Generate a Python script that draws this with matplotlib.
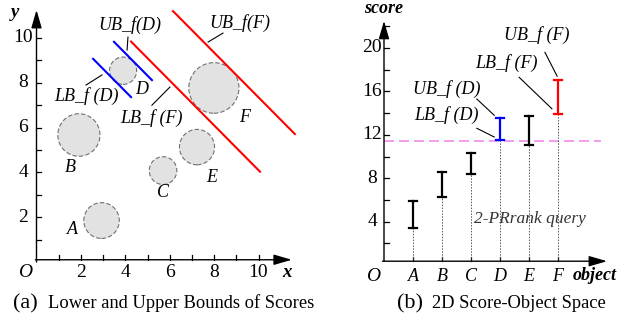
import matplotlib
matplotlib.use("Agg")
import matplotlib.pyplot as plt
from matplotlib.patches import Circle

# ---------------- data ----------------
obj_names = ["A", "B", "C", "D", "E", "F"]
obj_x = [2.93, 1.91, 5.70, 3.90, 7.23, 7.99]
obj_y = [1.85, 5.67, 4.08, 8.54, 5.13, 7.77]
obj_r = [0.80, 0.95, 0.62, 0.61, 0.79, 1.13]

# bound lines x + y = c  (left panel)
bound_names = ["LB_f (D)", "UB_f(D)", "LB_f (F)", "UB_f(F)"]
bound_c = [11.62, 13.32, 14.10, 17.35]
bound_x0 = [2.55, 3.49, 4.26, 6.15]
bound_x1 = [4.26, 5.20, 10.07, 11.64]
bound_colors = ["blue", "blue", "red", "red"]

# score intervals (right panel)
score_lower = [3.41, 6.29, 8.39, 11.52, 11.06, 13.92]
score_upper = [5.93, 8.54, 10.32, 13.52, 13.73, 17.05]
score_colors = ["black", "black", "black", "blue", "black", "red"]
threshold = 11.46

x_ticks_left = [2, 4, 6, 8, 10]
y_ticks_left = [2, 4, 6, 8, 10]
y_ticks_right = [4, 8, 12, 16, 20]

SERIF = "Liberation Serif"
W, H = 634, 332
fig = plt.figure(figsize=(W / 100, H / 100), dpi=100)

TICK_FS = 14
LAB_FS = 13


def add_axes_px(x0, x1, y0, y1):
    return fig.add_axes([x0 / W, 1 - y1 / H, (x1 - x0) / W, (y1 - y0) / H])


def arrow(ax, start, tip):
    ax.annotate("", xy=tip, xytext=start,
                arrowprops=dict(arrowstyle="-|>,head_length=1.1,head_width=0.32",
                                lw=1.0, color="black", shrinkA=0, shrinkB=0),
                annotation_clip=False)


# ---------------- left panel ----------------
axL = add_axes_px(0, 310, 0, 292)
axL.set_xlim((0 - 36.5) / 22.2, (310 - 36.5) / 22.2)
axL.set_ylim((262 - 292) / 22.4, 262 / 22.4)
axL.axis("off")

ax0y = 0.1
arrow(axL, (-0.05, ax0y), (11.5, ax0y))
arrow(axL, (0.0, 0.0), (0.0, 11.25))
for t in range(1, 11):
    axL.plot([t, t], [ax0y, ax0y + 0.22], color="black", lw=0.9)
    axL.plot([0, 0.22], [t, t], color="black", lw=0.9)
for t in x_ticks_left:
    axL.text(t, -0.47, str(t), ha="center", va="center", fontsize=TICK_FS, family=SERIF)
for t in y_ticks_left:
    axL.text(-0.6, t, str(t), ha="center", va="center", fontsize=TICK_FS, family=SERIF)
axL.text(-0.52, -0.47, "O", ha="center", va="center", fontsize=TICK_FS, family=SERIF, style="italic")
axL.text(11.28, -0.47, "x", ha="center", va="center", fontsize=13.5, family=SERIF,
         style="italic", weight="bold")
axL.text(-0.97, 11.16, "y", ha="center", va="center", fontsize=13.5, family=SERIF,
         style="italic", weight="bold")

for x, y, r in zip(obj_x, obj_y, obj_r):
    axL.add_patch(Circle((x, y), r, facecolor="#e2e2e2", edgecolor="#707070",
                         lw=0.8, ls=(0, (4, 2))))

label_pos = {"A": (1.6, 1.43), "B": (1.51, 4.2), "C": (5.7, 3.12),
             "D": (4.75, 7.68), "E": (7.9, 3.75), "F": (9.39, 6.47)}
for n in obj_names:
    px, py = label_pos[n]
    axL.text(px, py, n, ha="center", va="center", fontsize=LAB_FS, family=SERIF, style="italic")

for c, x0, x1, col in zip(bound_c, bound_x0, bound_x1, bound_colors):
    axL.plot([x0, x1], [c - x0, c - x1], color=col, lw=1.5)

ann_left = {
    "UB_f(D)": ((4.19, 10.58), (4.12, 10.04), (4.08, 9.46)),
    "LB_f (D)": ((2.23, 7.41), (2.23, 7.9), (2.95, 8.35)),
    "LB_f (F)": ((5.18, 6.43), (5.2, 7.0), (6.01, 7.81)),
    "UB_f(F)": ((9.17, 10.67), (7.73, 9.82), (8.4, 10.22)),
}
for name in bound_names:
    (tx, ty), (a0, b0), (a1, b1) = ann_left[name]
    axL.text(tx, ty, name, ha="center", va="center", fontsize=LAB_FS, family=SERIF, style="italic")
    axL.plot([a0, a1], [b0, b1], color="black", lw=0.8)

# ---------------- right panel ----------------
axR = add_axes_px(330, 634, 0, 292)
axR.set_xlim((330 - 384) / 29, (634 - 384) / 29)
axR.set_ylim((265 - 292) / 10.85, 265 / 10.85)
axR.axis("off")

ax0r = 0.35
arrow(axR, (-0.05, ax0r), (7.69, ax0r))
arrow(axR, (0.0, ax0r), (0.0, 22.5))
for t in range(2, 23, 2):
    axR.plot([0, 0.17], [t, t], color="black", lw=0.9)
for t in y_ticks_right:
    axR.text(-0.41, t, str(t), ha="center", va="center", fontsize=TICK_FS, family=SERIF)
xpos = list(range(1, len(obj_names) + 1))
for i, n in zip(xpos, obj_names):
    axR.plot([i, i], [ax0r, ax0r + 0.37], color="black", lw=0.9)
    axR.text(i, -1.1, n, ha="center", va="center", fontsize=LAB_FS, family=SERIF, style="italic")
axR.text(-0.39, -1.1, "O", ha="center", va="center", fontsize=TICK_FS, family=SERIF, style="italic")
axR.text(7.28, -0.95, "object", ha="center", va="center", fontsize=13, family=SERIF,
         style="italic", weight="bold")
axR.text(-0.03, 23.6, "score", ha="center", va="center", fontsize=13, family=SERIF,
         style="italic", weight="bold")

axR.plot([0, 7.48], [threshold, threshold], color="#f08cf0", lw=1.2, ls=(0, (6, 3)))

cap = 0.15
for i, lo, hi, col in zip(xpos, score_lower, score_upper, score_colors):
    axR.plot([i, i], [ax0r, lo], color="#555555", lw=0.7, ls=(0, (1.5, 1.5)))
    axR.plot([i, i], [lo, hi], color=col, lw=1.6)
    axR.plot([i - cap, i + cap], [lo, lo], color=col, lw=1.6)
    axR.plot([i - cap, i + cap], [hi, hi], color=col, lw=1.6)

ann_right = [
    ("UB_f (D)", (2.17, 16.2), (3.2, 15.3), (3.8, 13.8)),
    ("LB_f (D)", (2.17, 13.8), (3.2, 12.6), (3.8, 11.8)),
    ("LB_f (F)", (4.24, 18.6), (4.66, 17.3), (5.79, 14.4)),
    ("UB_f (F)", (5.28, 21.2), (5.55, 19.6), (5.97, 17.4)),
]
for name, (tx, ty), (a0, b0), (a1, b1) in ann_right:
    axR.text(tx, ty, name, ha="center", va="center", fontsize=LAB_FS, family=SERIF, style="italic")
    axR.plot([a0, a1], [b0, b1], color="black", lw=0.8)
axR.text(5.03, 4.24, "2-PRrank query", ha="center", va="center", fontsize=12.5,
         family=SERIF, style="italic", color="#333333")

# ---------------- captions ----------------
base = 1 - 308 / H
fig.text(13 / W, base, "(a)", fontsize=16, family=SERIF, va="baseline")
fig.text(48 / W, base, "Lower and Upper Bounds of Scores", fontsize=13.3, family=SERIF, va="baseline")
fig.text(397 / W, base, "(b)", fontsize=16, family=SERIF, va="baseline")
fig.text(432 / W, base, "2D Score-Object Space", fontsize=13.3, family=SERIF, va="baseline")

fig.savefig("out.png", dpi=100)
